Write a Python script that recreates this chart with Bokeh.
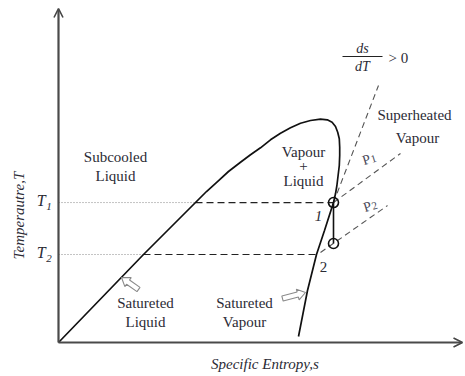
import numpy as np
from bokeh.plotting import figure
from bokeh.models import Range1d, Label, Arrow, OpenHead
from bokeh.embed import file_html
from bokeh.resources import INLINE

# ---------------- data (arbitrary units: s = specific entropy, T = temperature) -------------
# saturation dome: saturated-liquid branch, critical region, saturated-vapour branch
s_sat = [0.0, 2.125, 3.425, 3.70, 3.975, 4.25, 4.55, 4.80, 5.05, 5.30, 5.55, 5.80, 6.05,
         6.30, 6.55, 6.72, 6.84, 6.925, 6.98, 7.02, 7.03, 7.03, 7.02, 6.99, 6.96, 6.925,
         6.875, 6.65, 6.45, 6.225, 6.0]
T_sat = [0.0, 2.635, 4.192, 4.521, 4.820, 5.120, 5.398, 5.620, 5.829, 6.069, 6.266, 6.428,
         6.566, 6.647, 6.686, 6.668, 6.596, 6.467, 6.296, 6.099, 5.847, 5.599, 5.299, 5.0,
         4.701, 4.452, 4.192, 3.353, 2.635, 1.557, 0.180]

T_levels = [4.19, 2.635]          # T1, T2
s_liq_at_T = [3.425, 2.125]       # saturated liquid entropy at T1, T2
s_vap_at_T = [6.875, 6.45]        # saturated vapour entropy at T1, T2

# state points 1 and 2
s_points = [6.875, 6.875]
T_points = [4.19, 2.964]

# ds/dT > 0 guide line and isobars P1, P2
s_dsdT = [6.875, 8.0]
T_dsdT = [4.19, 7.695]
s_P1 = [6.875, 8.55]
T_P1 = [4.19, 5.66]
s_P2 = [6.55, 8.225]
T_P2 = [2.695, 4.10]

# hollow pointer arrows (tail, tip)
arrow_liq = [(2.0, 1.587), (1.575, 1.946)]
arrow_vap = [(5.6, 1.317), (6.175, 1.497)]

SERIF = "Liberation Serif"
TXT = "#2b2b35"

# ---------------- figure ----------------
p = figure(width=465, height=376, x_range=Range1d(-1.45, 10.175), y_range=Range1d(-1.018, 10.24),
           output_backend="svg", toolbar_location=None, min_border=0,
           x_axis_location=None, y_axis_location=None)
p.grid.visible = False
p.outline_line_color = None
p.background_fill_color = "white"
p.border_fill_color = "white"

# axes with arrow heads
p.add_layout(Arrow(end=OpenHead(size=9, line_width=1.6, line_color="#444"),
                   x_start=0, y_start=0, x_end=0, y_end=10.0,
                   line_width=2.2, line_color="#4a4a4a"))
p.add_layout(Arrow(end=OpenHead(size=9, line_width=1.6, line_color="#444"),
                   x_start=0, y_start=0, x_end=10.1, y_end=0,
                   line_width=2.2, line_color="#4a4a4a"))

# dotted guides from the T axis to the liquid line
for T, sl in zip(T_levels, s_liq_at_T):
    p.line([0, sl], [T, T], line_color="#888888", line_width=1, line_dash="1 2")
# dashed isotherms inside the dome
for T, sl, sv in zip(T_levels, s_liq_at_T, s_vap_at_T):
    p.line([sl, sv], [T, T], line_color="#222222", line_width=1.2, line_dash="7 4")

# grey dashed lines
p.line(s_dsdT, T_dsdT, line_color="#555555", line_width=1.1, line_dash="6 4")
p.line(s_P1, T_P1, line_color="#555555", line_width=1.1, line_dash="6 4")
p.line(s_P2, T_P2, line_color="#555555", line_width=1.1, line_dash="6 4")

# saturation dome
p.line(s_sat, T_sat, line_color="#111111", line_width=1.7)

# expansion 1 -> 2
p.line(s_points, T_points, line_color="#111111", line_width=1.6)
p.scatter(s_points, T_points, marker="circle", size=10, fill_alpha=0,
          line_color="#111111", line_width=1.6)

# hollow pointer arrows
SX, SY = 40.0, 33.4


def block_arrow(tail, tip, shaft=2.6, head=5.5, hlen=8.0):
    t = np.array([tail[0] * SX, tail[1] * SY])
    h = np.array([tip[0] * SX, tip[1] * SY])
    d = (h - t) / np.linalg.norm(h - t)
    n = np.array([-d[1], d[0]])
    b = h - d * hlen
    pts = [t + n * shaft, b + n * shaft, b + n * head, h, b - n * head, b - n * shaft, t - n * shaft]
    return [q[0] / SX for q in pts], [q[1] / SY for q in pts]


for tail, tip in (arrow_liq, arrow_vap):
    xs, ys = block_arrow(tail, tip)
    p.patch(xs, ys, fill_color="white", line_color="#8a8a8a", line_width=1.1)


def lab(x, y, text, size="15px", style="normal", color=TXT, align="center", angle=0.0):
    p.add_layout(Label(x=x, y=y, text=text, text_font=SERIF, text_font_size=size,
                       text_font_style=style, text_color=color, text_align=align,
                       text_baseline="middle", angle=angle))


# region labels
lab(1.425, 5.54, "Subcooled")
lab(1.425, 5.0, "Liquid")
lab(6.125, 5.69, "Vapour")
lab(6.125, 5.27, "+")
lab(6.125, 4.85, "Liquid")
lab(8.9, 6.80, "Superheated")
lab(8.975, 6.11, "Vapour")
lab(2.175, 1.17, "Satureted")
lab(2.175, 0.60, "Liquid")
lab(4.65, 1.17, "Satureted")
lab(4.65, 0.60, "Vapour")

# ds/dT > 0
lab(7.6, 8.80, "ds", size="14px", style="italic")
p.line([7.1, 8.1], [8.563, 8.563], line_color="#222222", line_width=1.1)
lab(7.6, 8.26, "dT", size="14px", style="italic")
lab(8.25, 8.53, "> 0", align="left")

# isobar labels
lab(7.70, 5.47, "P", size="14px", color="#4a4a5a", angle=0.3)
lab(7.88, 5.50, "1", size="11px", color="#4a4a5a", angle=0.3)
lab(7.72, 4.06, "P", size="14px", color="#4a4a5a", angle=0.3)
lab(7.90, 4.09, "2", size="11px", color="#4a4a5a", angle=0.3)

# state point labels
lab(6.5, 3.80, "1", style="italic")
lab(6.625, 2.27, "2")

# T1 / T2 tick labels
lab(-0.43, 4.25, "T", size="16px", style="italic")
lab(-0.24, 4.08, "1", size="11px", style="italic")
lab(-0.43, 2.69, "T", size="16px", style="italic")
lab(-0.24, 2.52, "2", size="11px", style="italic")

# axis titles
lab(5.16, -0.63, "Specific Entropy,s", style="italic")
lab(-1.0, 3.80, "Temperautre,T", style="italic", angle=np.pi / 2)

open("out.html", "w").write(file_html(p, INLINE))
